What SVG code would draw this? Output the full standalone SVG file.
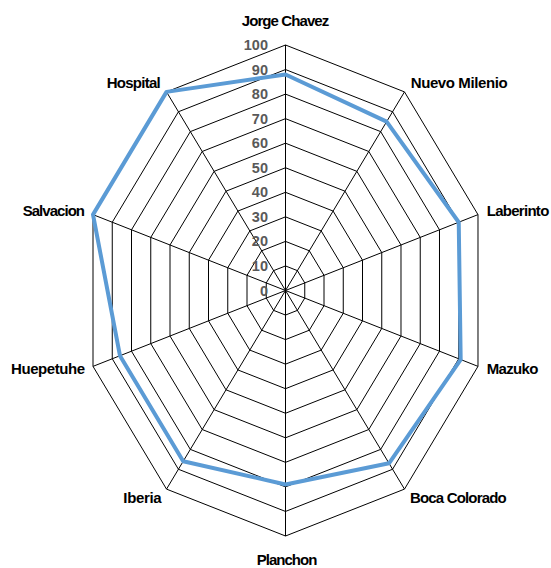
<svg xmlns="http://www.w3.org/2000/svg" width="551" height="568" viewBox="0 0 551 568">
<style>
.grid{fill:none;stroke:#000;stroke-width:1}
.spoke{stroke:#000;stroke-width:1}
.tick{font-family:"Liberation Sans",Arial,sans-serif;font-weight:bold;font-size:14.5px;fill:#595959;text-anchor:end}
.lbl{font-family:"Liberation Sans",Arial,sans-serif;font-weight:bold;font-size:15px;fill:#000}
.series{fill:none;stroke:#5B9BD5;stroke-width:4;stroke-linejoin:round}
</style>
<rect width="551" height="568" fill="#fff"/>
<g id="grid">
<polygon class="grid" points="285.5,265.95 297.4,270.64 304.75,282.91 304.75,298.09 297.4,310.36 285.5,315.05 273.6,310.36 266.25,298.09 266.25,282.91 273.6,270.64"/>
<polygon class="grid" points="285.5,241.4 309.29,250.78 324,275.33 324,305.67 309.29,330.22 285.5,339.6 261.71,330.22 247,305.67 247,275.33 261.71,250.78"/>
<polygon class="grid" points="285.5,216.85 321.19,230.92 343.25,267.74 343.25,313.26 321.19,350.08 285.5,364.15 249.81,350.08 227.75,313.26 227.75,267.74 249.81,230.92"/>
<polygon class="grid" points="285.5,192.3 333.09,211.06 362.5,260.16 362.5,320.84 333.09,369.94 285.5,388.7 237.91,369.94 208.5,320.84 208.5,260.16 237.91,211.06"/>
<polygon class="grid" points="285.5,167.75 344.99,191.19 381.75,252.57 381.75,328.43 344.99,389.81 285.5,413.25 226.01,389.81 189.25,328.43 189.25,252.57 226.01,191.19"/>
<polygon class="grid" points="285.5,143.2 356.88,171.33 400.99,244.98 400.99,336.02 356.88,409.67 285.5,437.8 214.12,409.67 170.01,336.02 170.01,244.98 214.12,171.33"/>
<polygon class="grid" points="285.5,118.65 368.78,151.47 420.24,237.4 420.24,343.6 368.78,429.53 285.5,462.35 202.22,429.53 150.76,343.6 150.76,237.4 202.22,151.47"/>
<polygon class="grid" points="285.5,94.1 380.68,131.61 439.49,229.81 439.49,351.19 380.68,449.39 285.5,486.9 190.32,449.39 131.51,351.19 131.51,229.81 190.32,131.61"/>
<polygon class="grid" points="285.5,69.55 392.57,111.75 458.74,222.23 458.74,358.77 392.57,469.25 285.5,511.45 178.43,469.25 112.26,358.77 112.26,222.23 178.43,111.75"/>
<polygon class="grid" points="285.5,45 404.47,91.89 477.99,214.64 477.99,366.36 404.47,489.11 285.5,536 166.53,489.11 93.01,366.36 93.01,214.64 166.53,91.89"/>
</g>
<g id="spokes">
<line class="spoke" x1="285.5" y1="290.5" x2="285.5" y2="45"/>
<line class="spoke" x1="285.5" y1="290.5" x2="404.47" y2="91.89"/>
<line class="spoke" x1="285.5" y1="290.5" x2="477.99" y2="214.64"/>
<line class="spoke" x1="285.5" y1="290.5" x2="477.99" y2="366.36"/>
<line class="spoke" x1="285.5" y1="290.5" x2="404.47" y2="489.11"/>
<line class="spoke" x1="285.5" y1="290.5" x2="285.5" y2="536"/>
<line class="spoke" x1="285.5" y1="290.5" x2="166.53" y2="489.11"/>
<line class="spoke" x1="285.5" y1="290.5" x2="93.01" y2="366.36"/>
<line class="spoke" x1="285.5" y1="290.5" x2="93.01" y2="214.64"/>
<line class="spoke" x1="285.5" y1="290.5" x2="166.53" y2="91.89"/>
</g>
<g id="ticks">
<text class="tick" x="268" y="295.5">0</text>
<text class="tick" x="268" y="271">10</text>
<text class="tick" x="268" y="246.4">20</text>
<text class="tick" x="268" y="221.9">30</text>
<text class="tick" x="268" y="197.3">40</text>
<text class="tick" x="268" y="172.8">50</text>
<text class="tick" x="268" y="148.2">60</text>
<text class="tick" x="268" y="123.7">70</text>
<text class="tick" x="268" y="99.1">80</text>
<text class="tick" x="268" y="74.6">90</text>
<text class="tick" x="268" y="50">100</text>
</g>
<g id="series">
<polygon class="series" points="285.5,74.46 386.62,121.68 458.74,222.23 460.67,359.53 389,463.29 285.5,484.45 183.19,461.3 119.96,355.74 93.01,214.64 166.53,91.89"/>
</g>
<g id="labels">
<text id="jorge-chavez" class="lbl" x="241.7" y="26" textLength="87.6">Jorge Chavez</text>
<text id="nuevo-milenio" class="lbl" x="410.7" y="87.5" textLength="97">Nuevo Milenio</text>
<text id="laberinto" class="lbl" x="486.7" y="215.7" textLength="62.6">Laberinto</text>
<text id="mazuko" class="lbl" x="486.7" y="374.3" textLength="51.6">Mazuko</text>
<text id="boca-colorado" class="lbl" x="410" y="503.3" textLength="96.7">Boca Colorado</text>
<text id="planchon" class="lbl" x="256.7" y="564.5" textLength="60.6">Planchon</text>
<text id="iberia" class="lbl" x="123.3" y="503.3" textLength="38.4">Iberia</text>
<text id="huepetuhe" class="lbl" x="11" y="374.3" textLength="74">Huepetuhe</text>
<text id="salvacion" class="lbl" x="22.7" y="215.7" textLength="62.3">Salvacion</text>
<text id="hospital" class="lbl" x="106.7" y="87.5" textLength="54">Hospital</text>
</g>
</svg>
